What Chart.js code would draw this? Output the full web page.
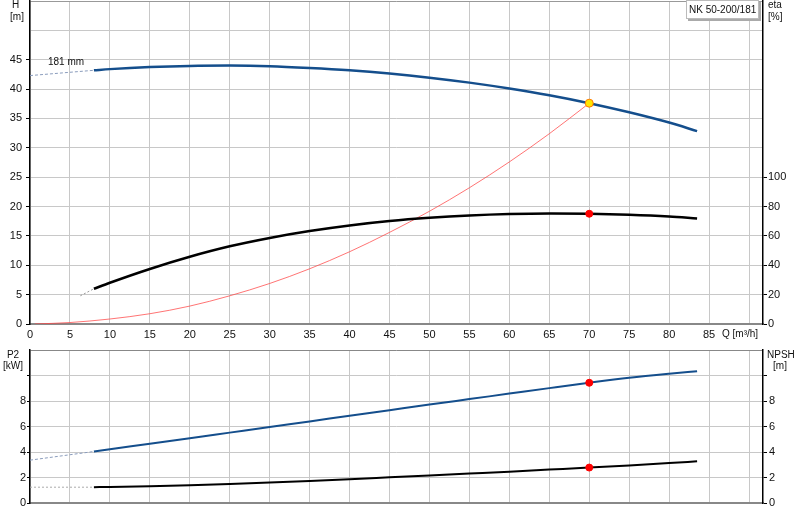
<!DOCTYPE html>
<html>
<head>
<meta charset="utf-8">
<script src="https://cdn.jsdelivr.net/npm/chart.js"></script>
<style>
  body { margin: 0; background: #fff; overflow: hidden; }
  #top { position: absolute; left: 0; top: -4px; }
  #bottom { position: absolute; left: 0; top: 340px; }
</style>
</head>
<body>
<canvas id="top" width="800" height="344"></canvas>
<canvas id="bottom" width="800" height="180"></canvas>
<script>
// pump curves NK 50-200/181
const qFlow   = [8, 10, 15, 20, 25, 30, 35, 40, 45, 50, 55, 60, 65, 70, 75, 80, 83.5];
const headH   = [43.2, 43.4, 43.75, 43.95, 44.0, 43.9, 43.6, 43.2, 42.65, 41.95, 41.1, 40.1, 38.95, 37.6, 36.05, 34.3, 32.85];
const etaPct  = [24.0, 28.1, 37.5, 45.8, 52.9, 58.6, 63.3, 67.1, 70.1, 72.3, 73.9, 74.9, 75.3, 75.1, 74.4, 73.2, 71.9];
const p2kW    = [4.04, 4.21, 4.65, 5.08, 5.52, 5.96, 6.40, 6.84, 7.28, 7.72, 8.15, 8.58, 9.01, 9.43, 9.82, 10.14, 10.34];
const npshM   = [1.24, 1.26, 1.32, 1.40, 1.49, 1.60, 1.72, 1.86, 2.01, 2.16, 2.31, 2.46, 2.62, 2.78, 2.95, 3.13, 3.27];

// dotted parts below minimum flow
const headExtQ = [0, 8];     const headExtH = [42.3, 43.2];
const etaExtQ  = [6.3, 8];   const etaExtV  = [19.2, 24.0];
const p2ExtQ   = [0, 8];     const p2ExtV   = [3.36, 4.04];
const npshExtQ = [0, 8];     const npshExtV = [1.24, 1.24];

// system curve (red)
const sysQ = [0.6, 5, 10, 15, 20, 25, 30, 35, 40, 45, 50, 55, 60, 65, 70];
const sysH = [0, 0.25, 0.85, 1.75, 3.05, 4.8, 6.9, 9.4, 12.3, 15.6, 19.2, 23.2, 27.6, 32.4, 37.6];

// duty point
const dutyQ = 70, dutyH = 37.6, dutyEta = 75.1, dutyP2 = 9.43, dutyNpsh = 2.78;

const xMax = 91.75;
const FONT = '"Liberation Sans", Arial, sans-serif';
const GRID = '#c8c8c8';
const BLUE = '#144e8c';

Chart.defaults.font.family = FONT;
Chart.defaults.font.size = 11;
Chart.defaults.color = '#111';

const pts = (xs, ys) => xs.map((x, i) => ({x: x, y: ys[i]}));

// keep the plot area exactly where the sheet has it
const noPad = (s, size) => {
    if (s.isHorizontal()) s.height = size; else s.width = size;
    s.paddingTop = 0; s.paddingBottom = 0; s.paddingLeft = 0; s.paddingRight = 0;
};

const textPlugin = (items, box, dy) => ({
    id: 'texts',
    afterDraw(chart) {
        const c = chart.ctx;
        dy = dy || 0;
        c.save();
        if (box) {
            c.fillStyle = '#aaa';
            c.fillRect(box.x + 2, box.y + dy + 2, box.w, box.h);
            c.fillStyle = '#fff';
            c.fillRect(box.x, box.y + dy, box.w, box.h);
            c.strokeStyle = '#bbb';
            c.lineWidth = 1;
            c.strokeRect(box.x + 0.5, box.y + dy + 0.5, box.w - 1, box.h - 1);
        }
        c.font = '10px ' + FONT;
        c.fillStyle = '#111';
        c.textBaseline = 'middle';
        items.forEach(t => {
            c.textAlign = t.align || 'left';
            c.fillText(t.text, t.x, t.y + dy);
        });
        c.restore();
    }
});

const hide = 'rgba(0,0,0,0)';

// ---------- top: H and eta ----------
new Chart(document.getElementById('top'), {
    type: 'line',
    data: {
        datasets: [
            {data: [{x: dutyQ, y: dutyH}], showLine: false, pointRadius: 4, pointBackgroundColor: '#ffe600', pointBorderColor: '#ff7a00', pointBorderWidth: 1, yAxisID: 'y'},
            {data: [{x: dutyQ, y: dutyEta}], showLine: false, pointRadius: 3.5, pointBackgroundColor: '#ff0000', pointBorderColor: '#ff0000', yAxisID: 'eta'},
            {data: pts(qFlow, headH), borderColor: BLUE, borderWidth: 2.5, pointRadius: 0, cubicInterpolationMode: 'monotone', yAxisID: 'y'},
            {data: pts(qFlow, etaPct), borderColor: '#000', borderWidth: 2.5, pointRadius: 0, cubicInterpolationMode: 'monotone', yAxisID: 'eta'},
            {data: pts(sysQ, sysH), borderColor: 'rgba(255,70,70,0.75)', borderWidth: 1, pointRadius: 0, cubicInterpolationMode: 'monotone', yAxisID: 'y'},
            {data: pts(headExtQ, headExtH), borderColor: '#8a9cbc', borderWidth: 1, borderDash: [3, 2], pointRadius: 0, yAxisID: 'y'},
            {data: pts(etaExtQ, etaExtV), borderColor: '#999', borderWidth: 1, borderDash: [2, 2], pointRadius: 0, yAxisID: 'eta'}
        ]
    },
    options: {
        responsive: false,
        animation: false,
        layout: {padding: 0},
        plugins: {legend: {display: false}, tooltip: {enabled: false}},
        scales: {
            x: {
                type: 'linear', min: 0, max: xMax,
                ticks: {stepSize: 5, includeBounds: false, padding: 4, maxRotation: 0, autoSkip: false,
                        callback: v => v <= 85 ? v : ''},
                grid: {color: GRID, drawTicks: false},
                border: {color: '#888', width: 2},
                afterFit: s => noPad(s, 16)
            },
            y: {
                position: 'left', min: 0, max: 55,
                ticks: {stepSize: 5, padding: 4, callback: v => v <= 45 ? v : ''},
                grid: {color: c => c.tick && c.tick.value === 55 ? '#999' : GRID, tickLength: 4,
                       tickColor: c => c.tick && c.tick.value <= 45 ? '#000' : hide},
                border: {color: '#000', width: 1.5},
                afterFit: s => noPad(s, 30)
            },
            eta: {
                position: 'right', min: 0, max: 220,
                ticks: {stepSize: 20, padding: 1, callback: v => v <= 100 ? v : ''},
                grid: {drawOnChartArea: false, tickLength: 4,
                       tickColor: c => c.tick && c.tick.value <= 100 ? '#000' : hide},
                border: {color: '#000', width: 1.5},
                afterFit: s => noPad(s, 37)
            }
        }
    },
    plugins: [textPlugin([
        {text: 'H', x: 15.5, y: 5, align: 'center'},
        {text: '[m]', x: 17, y: 17.5, align: 'center'},
        {text: 'eta', x: 768, y: 5.5},
        {text: '[%]', x: 768, y: 17.5},
        {text: '181 mm', x: 48, y: 62.5},
        {text: 'Q [m³/h]', x: 722, y: 334.5},
        {text: 'NK 50-200/181', x: 689, y: 10}
    ], {x: 686, y: 0, w: 73, h: 19}, 4)]
});

// ---------- bottom: P2 and NPSH ----------
new Chart(document.getElementById('bottom'), {
    type: 'line',
    data: {
        datasets: [
            {data: [{x: dutyQ, y: dutyP2}], showLine: false, pointRadius: 3.5, pointBackgroundColor: '#ff0000', pointBorderColor: '#ff0000', yAxisID: 'y'},
            {data: [{x: dutyQ, y: dutyNpsh}], showLine: false, pointRadius: 3.5, pointBackgroundColor: '#ff0000', pointBorderColor: '#ff0000', yAxisID: 'npsh'},
            {data: pts(qFlow, p2kW), borderColor: BLUE, borderWidth: 2, pointRadius: 0, cubicInterpolationMode: 'monotone', yAxisID: 'y'},
            {data: pts(qFlow, npshM), borderColor: '#000', borderWidth: 2, pointRadius: 0, cubicInterpolationMode: 'monotone', yAxisID: 'npsh'},
            {data: pts(p2ExtQ, p2ExtV), borderColor: '#8a9cbc', borderWidth: 1, borderDash: [3, 2], pointRadius: 0, yAxisID: 'y'},
            {data: pts(npshExtQ, npshExtV), borderColor: '#aaa', borderWidth: 1, borderDash: [2, 2], pointRadius: 0, yAxisID: 'npsh'}
        ]
    },
    options: {
        responsive: false,
        animation: false,
        layout: {padding: {top: 10, left: 0, right: 0, bottom: 0}},
        plugins: {legend: {display: false}, tooltip: {enabled: false}},
        scales: {
            x: {
                type: 'linear', min: 0, max: xMax,
                ticks: {stepSize: 5, includeBounds: false, display: false},
                grid: {color: GRID, drawTicks: false},
                border: {color: '#888', width: 2},
                afterFit: s => noPad(s, 17)
            },
            y: {
                position: 'left', min: 0, max: 12,
                ticks: {stepSize: 2, padding: 1, callback: v => v <= 8 ? v : ''},
                grid: {color: c => c.tick && c.tick.value === 12 ? '#888' : GRID, tickLength: 3,
                       tickColor: c => c.tick && c.tick.value <= 10 ? '#000' : hide},
                border: {color: '#000', width: 1.5},
                afterFit: s => noPad(s, 30)
            },
            npsh: {
                position: 'right', min: 0, max: 12,
                ticks: {stepSize: 2, padding: 2, callback: v => v <= 8 ? v : ''},
                grid: {drawOnChartArea: false, tickLength: 4,
                       tickColor: c => c.tick && c.tick.value <= 10 ? '#000' : hide},
                border: {color: '#000', width: 1.5},
                afterFit: s => noPad(s, 37)
            }
        }
    },
    plugins: [textPlugin([
        {text: 'P2', x: 13, y: 15, align: 'center'},
        {text: '[kW]', x: 13, y: 26.5, align: 'center'},
        {text: 'NPSH', x: 767, y: 15},
        {text: '[m]', x: 780, y: 26, align: 'center'}
    ])]
});
</script>
</body>
</html>
